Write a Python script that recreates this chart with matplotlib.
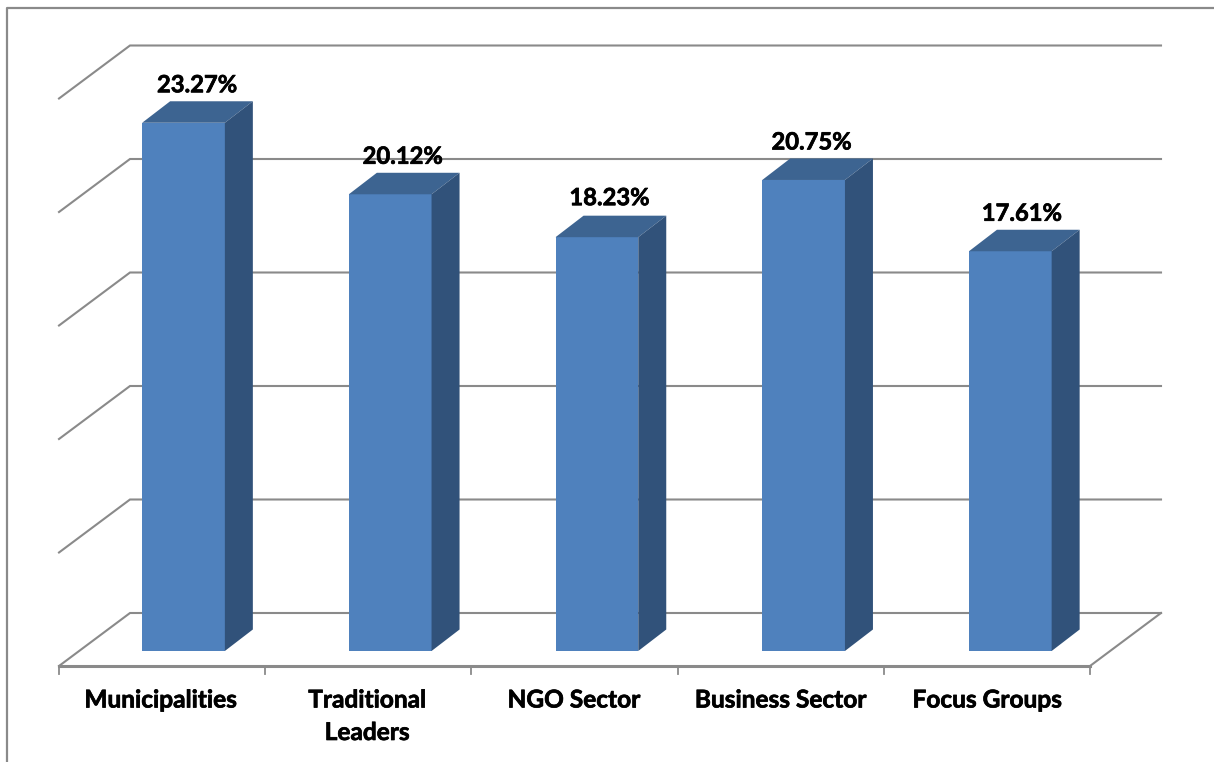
from matplotlib import pyplot as plt, patches
import matplotlib.patheffects as pe
import numpy as np

categories = ['Municipalities', 'Traditional\nLeaders', 'NGO Sector', 'Business Sector', 'Focus Groups']
values = [23.27, 20.12, 18.23, 20.75, 17.61]
grid_levels = [0, 5, 10, 15, 20, 25]

W, H = 1214, 762
px_x = 206.2   # pixels per category
px_y = 22.7    # pixels per percent
gray = '#8a8a8a'

plt.rcParams['font.family'] = ['Lato', 'DejaVu Sans']

fig = plt.figure(figsize=(W / 100, H / 100), dpi=100)
ax = fig.add_axes([0, 0, 1, 1])
ax.set_xlim(-59 / px_x, (W - 59) / px_x)
ax.set_ylim(-(H - 651) / px_y, 651 / px_y)
ax.axis('off')

# depth of the floor and of the bars, in data units
floor_dx, floor_dy = 71 / px_x, 53 / px_y
bar_dx, bar_dy = 28 / px_x, 21.5 / px_y
front_y = -15 / px_y   # floor front edge
bar_w = 82.7 / px_x
pitch = 206.7 / px_x   # bars sit slightly wider apart than the ticks
x = 124.5 / px_x + np.arange(len(values)) * pitch
label_dx = [13.5, 12.5, 12.5, 8, 11.5]  # labels are not quite centred on the bars
label_dy = [16.5, 16.5, 18, 16.5, 16.5]

bold = [pe.withStroke(linewidth=0.5, foreground='black')]

# outer frame
ax.plot([(7 - 59) / px_x, (7 - 59) / px_x, (W - 59) / px_x],
        [-(H - 651) / px_y, (651 - 8) / px_y, (651 - 8) / px_y],
        color=gray, lw=1.6, clip_on=False, zorder=1)

# back wall lines and the slanted side wall
n = len(values)
for lev in grid_levels:
    y0 = front_y + lev
    y1 = y0 + floor_dy
    ax.plot([0, floor_dx, n + floor_dx], [y0, y1, y1], color=gray, lw=1.5, zorder=1,
            solid_joinstyle='miter')

# floor front edge, right edge and ticks
ax.plot([0, n], [front_y, front_y], color=gray, lw=2.2, zorder=1)
ax.plot([n, n + floor_dx], [front_y, front_y + floor_dy], color=gray, lw=1.5, zorder=1)
for t in range(n + 1):
    ax.plot([t, t], [front_y, front_y - 8 / px_y], color=gray, lw=1.3, zorder=1)

# bars
ax.bar(x, values, width=bar_w, color='#4f81bd', edgecolor='none', zorder=3)
for i, (xi, v) in enumerate(zip(x, values)):
    l, r = xi - bar_w / 2, xi + bar_w / 2
    top = patches.Polygon([(l, v), (r, v), (r + bar_dx, v + bar_dy), (l + bar_dx, v + bar_dy)],
                          closed=True, facecolor='#3d6491', edgecolor='none', zorder=3)
    side = patches.Polygon([(r, 0), (r + bar_dx, bar_dy), (r + bar_dx, v + bar_dy), (r, v)],
                           closed=True, facecolor='#31527a', edgecolor='none', zorder=3)
    ax.add_patch(top)
    ax.add_patch(side)
    ax.text(xi + label_dx[i] / px_x, v + bar_dy + label_dy[i] / px_y, f'{v:.2f}%', ha='center',
            va='center', fontsize=17.1, fontweight='bold', color='black', zorder=4, path_effects=bold)

# category labels
for xi, lab in zip(x, categories):
    ax.text(xi - 23 / px_x, -(688.5 - 651) / px_y, lab, ha='center', va='top', fontsize=17.6,
            fontweight='bold', color='black', linespacing=1.5, path_effects=bold)

fig.savefig('out.png', dpi=100)
